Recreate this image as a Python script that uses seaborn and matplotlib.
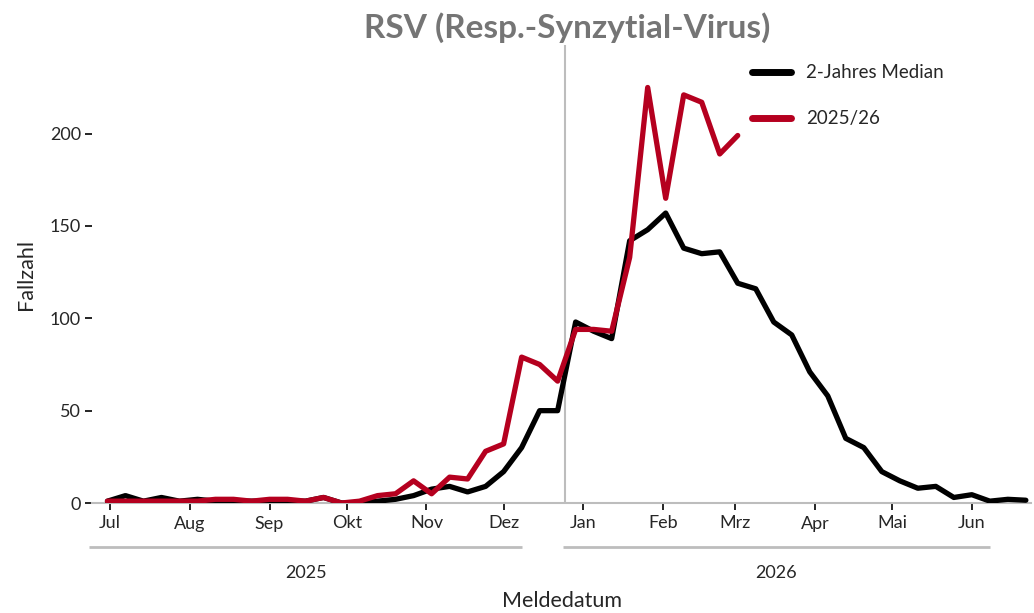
import pandas as pd
import numpy as np
import seaborn as sns
import matplotlib.pyplot as plt
import matplotlib.dates as mdates
import matplotlib.transforms as mtransforms

# Wochenwerte ab Ende Juni 2025
wochen_start = "2025-06-30"
median_2j = [1, 4, 1, 3, 1, 2, 1, 1, 1, 1, 1, 1, 3, 0, 0, 1, 2, 4, 7.5, 9,
             6, 9, 17, 30, 50, 50, 98, 93, 89, 142, 148, 157, 138, 135, 136, 119,
             116, 98, 91, 71, 58, 35, 30, 17, 12, 8, 9, 3, 4.5, 1, 2, 1.5]
saison_2526 = [1, 1, 1, 1, 1, 1, 2, 2, 1, 2, 2, 1, 3, 0, 1, 4, 5, 12, 5, 14,
               13, 28, 32, 79, 75, 66, 94, 94, 93, 133, 225, 165, 221, 217, 189, 199]
monate = ["Jul", "Aug", "Sep", "Okt", "Nov", "Dez",
          "Jan", "Feb", "Mrz", "Apr", "Mai", "Jun"]
jahre = ["2025", "2026"]

datum = pd.date_range(wochen_start, periods=len(median_2j), freq="7D")
df = pd.concat([
    pd.DataFrame({"Meldedatum": datum, "Fallzahl": median_2j, "Reihe": "2-Jahres Median"}),
    pd.DataFrame({"Meldedatum": datum[:len(saison_2526)], "Fallzahl": saison_2526, "Reihe": "2025/26"}),
])

sns.set_style("white")
plt.rcParams['font.family'] = ['Lato', 'DejaVu Sans']

fig = plt.figure(figsize=(10.34, 6.13), dpi=100)
ax = fig.add_axes([92 / 1034, 1 - 503 / 613, (1031 - 92) / 1034, (503 - 45) / 613])

sns.lineplot(
    data=df,
    x="Meldedatum",
    y="Fallzahl",
    hue="Reihe",
    palette={"2-Jahres Median": "black", "2025/26": "#B5001F"},
    linewidth=3.8,
    ax=ax,
    zorder=3,
)

ax.set_xlim(pd.Timestamp("2025-06-24"), pd.Timestamp("2026-06-24"))
ax.set_ylim(0, 248)
ax.axvline(pd.Timestamp("2025-12-25"), color="#BDBDBD", linewidth=1.5, zorder=1)

for s in ["top", "right", "left"]:
    ax.spines[s].set_visible(False)
ax.spines["bottom"].set_color("#BDBDBD")
ax.spines["bottom"].set_linewidth(1.5)

ax.set_yticks([0, 50, 100, 150, 200])
monat_ticks = pd.date_range("2025-07-01", periods=12, freq="MS")
ax.set_xticks(monat_ticks)
ax.set_xticklabels(monate)
ax.tick_params(axis="both", bottom=True, left=True, length=5, width=1.2,
               color="black", labelsize=13, pad=4)
ax.tick_params(axis="y", pad=3)

# Jahres-Klammern unter der Achse
trans = mtransforms.blended_transform_factory(ax.transData, fig.transFigure)
jahr_bereiche = [(pd.Timestamp("2025-06-23"), pd.Timestamp("2025-12-08")),
                 (pd.Timestamp("2025-12-24"), pd.Timestamp("2026-06-08"))]
for jahr, (a, b) in zip(jahre, jahr_bereiche):
    ax.plot([a, b], [1 - 547 / 613] * 2, transform=trans, color="#BDBDBD",
            linewidth=2, clip_on=False, solid_capstyle="butt")
    mitte = a + (b - a) / 2
    ax.text(mitte, 1 - 573 / 613, jahr, transform=trans, ha="center", va="center",
            fontsize=13)

ax.set_xlabel("")
fig.text((92 + 1031) / 2 / 1034, 1 - 601 / 613, "Meldedatum", ha="center", va="center", fontsize=15.5)
ax.set_ylabel("Fallzahl", fontsize=15.5, labelpad=10)

fig.text(567 / 1034, 1 - 28 / 613, "RSV (Resp.-Synzytial-Virus)", ha="center", va="center",
         fontsize=24, fontweight="bold", color="#757575")

leg = ax.legend(loc="upper left", bbox_to_anchor=(0.685, 0.995), frameon=False, fontsize=13.5,
                handlelength=2.1, labelspacing=1.55, handletextpad=0.8)
for h in leg.get_lines():
    h.set_linewidth(5)

fig.savefig("out.png", dpi=100)
